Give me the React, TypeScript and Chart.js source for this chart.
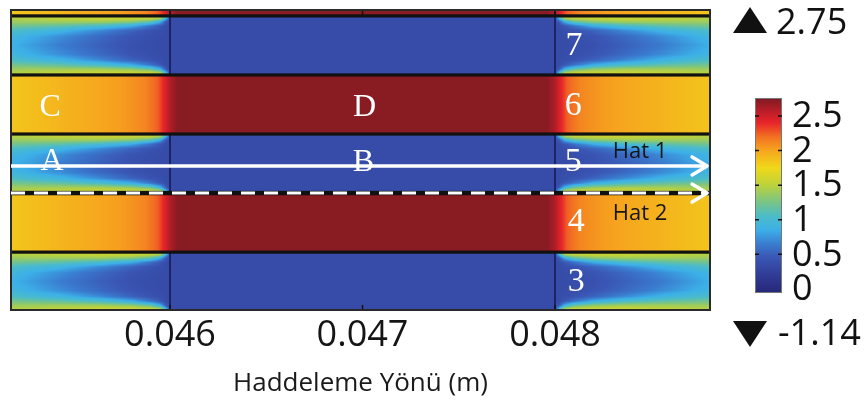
import React, { useEffect, useRef } from 'react';
import { Chart, registerables } from 'chart.js';

Chart.register(...registerables);

// ---------- axes ----------
const xMin = 0.045174;
const xMax = 0.048805;
const yMin = 0.02;
const yMax = 5.1;
const xTickValues = [0.046, 0.047, 0.048];
const axisTitle = 'Haddeleme Yönü (m)';

// ---------- geometry of the layers (data units) ----------
const dieStart = 0.046;
const dieEnd = 0.048;
// kind of layer for floor(y) = 0..5 (bottom to top)
const bandKinds = ['blue', 'yellow', 'blue', 'yellow', 'blue', 'yellow'];
const solidInterfaces = [1, 3, 4, 5];
const dashedInterface = 2;

// ---------- colour scale ----------
const cmapValues = [-0.06, 0.2, 0.45, 0.65, 0.85, 1.05, 1.25, 1.5, 1.75, 2.0, 2.2, 2.4, 2.55, 2.76];
const cmapColors = ['#262878', '#303c96', '#3a56b4', '#3a7ccf', '#3cb0e8', '#4cbcc8', '#78c486', '#bcd23c', '#f0d81a', '#f6a61e', '#f27022', '#e8252a', '#c01e28', '#7c1a22'];
const cbTicks = [0, 0.5, 1, 1.5, 2, 2.5];
const cbMin = -0.06;
const cbMax = 2.76;
const rangeMaxLabel = '2.75';
const rangeMinLabel = '-1.14';

// ---------- field values ----------
// hot layers (C, D): value vs distance from the die edge
const yellowOutDist = [0, 0.000026, 0.000062, 0.00013, 0.00026, 0.00047, 0.00068, 0.00083];
const yellowOutVal = [2.6, 2.45, 2.25, 2.12, 2.03, 1.96, 1.89, 1.84];
const yellowInDist = [0, 0.00004];
const yellowInVal = [2.6, 2.72];
// cool layers (A, B): value vs distance from die edge (rows) and depth from layer edge (columns)
const blueDist = [0, 0.00002, 0.00005, 0.0001, 0.0002, 0.00036, 0.00057, 0.00083];
const blueDepth = [0, 0.05, 0.1, 0.17, 0.25, 0.35, 0.5];
const blueField = [
  [0.4, 0.36, 0.35, 0.35, 0.35, 0.35, 0.35],
  [1.25, 0.8, 0.45, 0.36, 0.35, 0.35, 0.35],
  [1.58, 1.38, 0.85, 0.45, 0.38, 0.36, 0.35],
  [1.62, 1.5, 1.15, 0.6, 0.42, 0.38, 0.37],
  [1.62, 1.54, 1.32, 0.85, 0.52, 0.43, 0.4],
  [1.6, 1.54, 1.4, 1.02, 0.7, 0.55, 0.5],
  [1.55, 1.5, 1.4, 1.15, 0.9, 0.72, 0.65],
  [1.48, 1.45, 1.38, 1.24, 1.06, 0.93, 0.87],
];
const blueInside = 0.35;

// ---------- lines and labels ----------
const hat1Y = 2.46;
const hat2Y = 2.0;
const hatStartX = xMin;
const hatTipX = 0.04879;
const hatNames = ['Hat 1', 'Hat 2'];
const hatLabelX = [0.048442, 0.048442];
const hatLabelY = [2.695, 1.645];

const regionNames = ['C', 'D', 'A', 'B'];
const regionX = [0.045377, 0.04701, 0.045387, 0.047005];
const regionY = [3.44, 3.44, 2.54, 2.51];

const layerNames = ['7', '6', '5', '4', '3'];
const layerX = [0.048099, 0.048095, 0.048095, 0.04811, 0.04811];
const layerY = [4.49, 3.47, 2.53, 1.51, 0.49];

// ---------- helpers ----------
const hexToRgb = (h: string) => [parseInt(h.slice(1, 3), 16), parseInt(h.slice(3, 5), 16), parseInt(h.slice(5, 7), 16)];
const cmapRgb = cmapColors.map(hexToRgb);

function colorFor(v: number) {
  const n = cmapValues.length;
  if (v <= cmapValues[0]) return cmapRgb[0];
  if (v >= cmapValues[n - 1]) return cmapRgb[n - 1];
  let i = 0;
  while (v > cmapValues[i + 1]) i++;
  const t = (v - cmapValues[i]) / (cmapValues[i + 1] - cmapValues[i]);
  const a = cmapRgb[i];
  const b = cmapRgb[i + 1];
  return [a[0] + (b[0] - a[0]) * t, a[1] + (b[1] - a[1]) * t, a[2] + (b[2] - a[2]) * t];
}

function locate(xs: number[], x: number): [number, number] {
  const n = xs.length;
  if (x <= xs[0]) return [0, 0];
  if (x >= xs[n - 1]) return [n - 2, 1];
  let i = 0;
  while (x > xs[i + 1]) i++;
  return [i, (x - xs[i]) / (xs[i + 1] - xs[i])];
}

function table(xs: number[], ys: number[], x: number) {
  const [i, t] = locate(xs, x);
  return ys[i] + (ys[i + 1] - ys[i]) * t;
}

function fieldValue(xv: number, yv: number) {
  const band = Math.min(bandKinds.length - 1, Math.max(0, Math.floor(yv)));
  const kind = bandKinds[band];
  const inside = xv >= dieStart && xv <= dieEnd;
  const dist = inside ? Math.min(xv - dieStart, dieEnd - xv) : xv < dieStart ? dieStart - xv : xv - dieEnd;
  if (kind === 'yellow') {
    return inside ? table(yellowInDist, yellowInVal, dist) : table(yellowOutDist, yellowOutVal, dist);
  }
  if (inside) return blueInside;
  const frac = yv - band;
  const depth = Math.min(frac, 1 - frac);
  const [i, ti] = locate(blueDist, dist);
  const [j, tj] = locate(blueDepth, depth);
  const a = blueField[i][j] + (blueField[i][j + 1] - blueField[i][j]) * tj;
  const b = blueField[i + 1][j] + (blueField[i + 1][j + 1] - blueField[i + 1][j]) * tj;
  return a + (b - a) * ti;
}

const sans = '"Open Sans", "DejaVu Sans", sans-serif';
const serif = '"Liberation Serif", "DejaVu Serif", serif';

const fieldPlugin = {
  id: 'fieldPlugin',
  beforeDatasetsDraw(chart: any) {
    const { ctx, chartArea, scales } = chart;
    const xs = scales.x;
    const ys = scales.y;
    const left = Math.round(chartArea.left);
    const top = Math.round(chartArea.top);
    const w = Math.round(chartArea.right - chartArea.left);
    const h = Math.round(chartArea.bottom - chartArea.top);
    const off = document.createElement('canvas');
    off.width = w;
    off.height = h;
    const octx = off.getContext('2d')!;
    const img = octx.createImageData(w, h);
    const xVals = new Array(w);
    for (let px = 0; px < w; px++) xVals[px] = xs.getValueForPixel(left + px + 0.5);
    for (let py = 0; py < h; py++) {
      const yv = ys.getValueForPixel(top + py + 0.5);
      for (let px = 0; px < w; px++) {
        const c = colorFor(fieldValue(xVals[px], yv));
        const k = (py * w + px) * 4;
        img.data[k] = c[0];
        img.data[k + 1] = c[1];
        img.data[k + 2] = c[2];
        img.data[k + 3] = 255;
      }
    }
    octx.putImageData(img, 0, 0);
    ctx.save();
    ctx.drawImage(off, left, top);

    // vertical die edges in cool layers and top strip
    ctx.strokeStyle = '#1c2464';
    ctx.lineWidth = 2;
    bandKinds.forEach((kind, i) => {
      if (kind !== 'blue' && i !== bandKinds.length - 1) return;
      const y0 = ys.getPixelForValue(Math.max(i, yMin));
      const y1 = ys.getPixelForValue(Math.min(i + 1, yMax));
      [dieStart, dieEnd].forEach((xv) => {
        const px = xs.getPixelForValue(xv);
        ctx.beginPath();
        ctx.moveTo(px, y0);
        ctx.lineTo(px, y1);
        ctx.stroke();
      });
    });

    // interfaces
    ctx.fillStyle = '#111';
    solidInterfaces.forEach((yv) => {
      const py = ys.getPixelForValue(yv);
      ctx.fillRect(chartArea.left, py - 1.6, chartArea.right - chartArea.left, 3.2);
    });
    const pd = ys.getPixelForValue(dashedInterface);
    ctx.fillRect(chartArea.left, pd - 2.2, chartArea.right - chartArea.left, 4.4);

    // inward ticks
    ctx.strokeStyle = '#111';
    ctx.lineWidth = 1.5;
    xTickValues.forEach((v) => {
      const px = xs.getPixelForValue(v);
      ctx.beginPath();
      ctx.moveTo(px, chartArea.bottom);
      ctx.lineTo(px, chartArea.bottom - 5);
      ctx.moveTo(px, chartArea.top);
      ctx.lineTo(px, chartArea.top + 5);
      ctx.stroke();
    });

    // frame
    ctx.strokeStyle = '#2a2a2a';
    ctx.lineWidth = 2;
    ctx.strokeRect(chartArea.left, chartArea.top, chartArea.right - chartArea.left, chartArea.bottom - chartArea.top);
    ctx.restore();
  },
  afterDatasetsDraw(chart: any) {
    const { ctx, scales } = chart;
    const xs = scales.x;
    const ys = scales.y;
    ctx.save();
    // arrow heads
    chart.data.datasets.forEach((_: any, i: number) => {
      const meta = chart.getDatasetMeta(i);
      const pts = meta.data;
      const tip = pts[pts.length - 1];
      ctx.strokeStyle = '#ffffff';
      ctx.lineWidth = 3.5;
      ctx.lineJoin = 'round';
      ctx.lineCap = 'round';
      ctx.setLineDash([]);
      ctx.beginPath();
      ctx.moveTo(tip.x - 15, tip.y - 9);
      ctx.lineTo(tip.x, tip.y);
      ctx.lineTo(tip.x - 15, tip.y + 9);
      ctx.stroke();
    });

    ctx.textAlign = 'center';
    ctx.textBaseline = 'middle';
    ctx.fillStyle = '#ffffff';
    ctx.font = `32px ${serif}`;
    regionNames.forEach((t, i) => {
      ctx.fillText(t, xs.getPixelForValue(regionX[i]), ys.getPixelForValue(regionY[i]));
    });
    ctx.font = `34px ${serif}`;
    layerNames.forEach((t, i) => {
      ctx.fillText(t, xs.getPixelForValue(layerX[i]), ys.getPixelForValue(layerY[i]));
    });
    ctx.fillStyle = '#161616';
    ctx.font = `22px ${sans}`;
    hatNames.forEach((t, i) => {
      ctx.fillText(t, xs.getPixelForValue(hatLabelX[i]), ys.getPixelForValue(hatLabelY[i]));
    });
    ctx.restore();
  },
  afterDraw(chart: any) {
    const { ctx } = chart;
    const cbLeft = 755;
    const cbRight = 782;
    const cbTop = 98;
    const cbBottom = 293;
    const valToY = (v: number) => cbTop + ((cbMax - v) / (cbMax - cbMin)) * (cbBottom - cbTop);
    ctx.save();
    for (let py = cbTop; py < cbBottom; py++) {
      const v = cbMax - ((py + 0.5 - cbTop) / (cbBottom - cbTop)) * (cbMax - cbMin);
      const c = colorFor(v);
      ctx.fillStyle = `rgb(${c[0]},${c[1]},${c[2]})`;
      ctx.fillRect(cbLeft, py, cbRight - cbLeft, 1);
    }
    ctx.strokeStyle = '#777';
    ctx.lineWidth = 1;
    ctx.strokeRect(cbLeft + 0.5, cbTop + 0.5, cbRight - cbLeft - 1, cbBottom - cbTop - 1);
    ctx.strokeStyle = '#111';
    ctx.lineWidth = 1.5;
    ctx.fillStyle = '#111';
    ctx.font = `36px ${sans}`;
    ctx.textAlign = 'left';
    ctx.textBaseline = 'middle';
    cbTicks.forEach((v) => {
      const y = valToY(v);
      if (v > 0) {
        ctx.beginPath();
        ctx.moveTo(cbLeft, y);
        ctx.lineTo(cbLeft + 4, y);
        ctx.moveTo(cbRight - 4, y);
        ctx.lineTo(cbRight, y);
        ctx.stroke();
      }
      ctx.fillText(String(v), 792, y + 1);
    });
    // range markers
    ctx.beginPath();
    ctx.moveTo(733, 33);
    ctx.lineTo(767, 33);
    ctx.lineTo(750, 7);
    ctx.closePath();
    ctx.fill();
    ctx.beginPath();
    ctx.moveTo(733, 321);
    ctx.lineTo(767, 321);
    ctx.lineTo(750, 347);
    ctx.closePath();
    ctx.fill();
    ctx.fillText(rangeMaxLabel, 776, 24);
    ctx.fillText(rangeMinLabel, 778, 335);
    ctx.restore();
  },
};

export default function App() {
  const ref = useRef<HTMLCanvasElement>(null);
  useEffect(() => {
    const chart = new Chart(ref.current as HTMLCanvasElement, {
      type: 'scatter',
      data: {
        datasets: [
          {
            label: hatNames[0],
            data: [{ x: hatStartX, y: hat1Y }, { x: hatTipX, y: hat1Y }],
            showLine: true,
            borderColor: '#ffffff',
            borderWidth: 3.5,
            pointRadius: 0,
          },
          {
            label: hatNames[1],
            data: [{ x: hatStartX, y: hat2Y }, { x: hatTipX, y: hat2Y }],
            showLine: true,
            borderColor: '#ffffff',
            borderWidth: 3,
            borderDash: [14, 9],
            pointRadius: 0,
          },
        ],
      },
      options: {
        responsive: false,
        animation: false,
        layout: { padding: { left: 11, top: 10, right: 158, bottom: 0 } },
        plugins: { legend: { display: false }, tooltip: { enabled: false } },
        events: [],
        scales: {
          x: {
            type: 'linear',
            min: xMin,
            max: xMax,
            position: 'bottom',
            afterBuildTicks: (s: any) => {
              s.ticks = xTickValues.map((v) => ({ value: v }));
            },
            afterFit: (s: any) => {
              s.height = 93;
            },
            grid: { display: false, drawTicks: false },
            border: { display: false },
            ticks: {
              font: { family: sans, size: 36 },
              color: '#151515',
              padding: 4,
              maxRotation: 0,
              autoSkip: false,
              callback: (v: any) => Number(v).toFixed(3),
            },
            title: {
              display: true,
              text: axisTitle,
              font: { family: sans, size: 26 },
              color: '#1a1a1a',
              padding: { top: 0, bottom: 4 },
            },
          },
          y: { type: 'linear', min: yMin, max: yMax, display: false },
        },
      },
      plugins: [fieldPlugin],
    } as any);
    return () => chart.destroy();
  }, []);
  return (
    <div style={{ position: 'absolute', left: 0, top: 0, width: 868, height: 403, background: '#fff' }}>
      <canvas ref={ref} width={868} height={403} style={{ display: 'block' }} />
    </div>
  );
}
